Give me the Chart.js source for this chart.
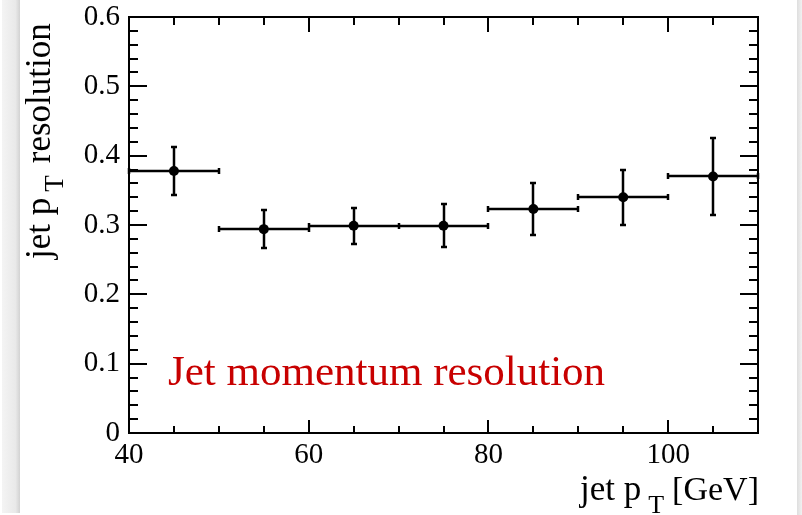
<!DOCTYPE html>
<html>
<head>
<meta charset="utf-8">
<title>Jet momentum resolution</title>
<script src="https://cdn.jsdelivr.net/npm/chart.js@4.4.1/dist/chart.umd.min.js"></script>
<style>
    html, body { margin: 0; padding: 0; background: #fff; }
    #wrap { position: relative; width: 802px; height: 515px; overflow: hidden; }
    .edge-left { position: absolute; left: 2px; top: 0; width: 18px; height: 513px;
        background: linear-gradient(to right, #f4f4f4, #e9e9e9 75%, #d2d2d2); }
    .edge-right { position: absolute; left: 797px; top: 0; width: 5px; height: 515px;
        background: linear-gradient(to right, #dedede, #f1f1f1); }
    canvas { position: absolute; left: 0; top: 0; }
</style>
</head>
<body>
<div id="wrap">
    <div class="edge-left"></div>
    <div class="edge-right"></div>
    <canvas id="resChart" width="802" height="515"></canvas>
</div>
<script>
// pT bins (GeV) and measured resolution with errors
const binCenters = [45, 55, 65, 75, 85, 95, 105];
const binHalfWidths = [5, 5, 5, 5, 5, 5, 5];
const resolution = [0.378, 0.294, 0.299, 0.299, 0.323, 0.340, 0.370];
const resolutionErr = [0.035, 0.027, 0.026, 0.031, 0.037, 0.040, 0.055];

// axis ticks
const xMajorTicks = [40, 60, 80, 100];
const xMinorTicks = [45, 50, 55, 65, 70, 75, 85, 90, 95, 105, 110];
const yMajorTicks = [0, 0.1, 0.2, 0.3, 0.4, 0.5, 0.6];
const yMinorStep = 0.02;

const SERIF = "'Liberation Serif', 'Times New Roman', serif";

function yMinorTicks() {
    const out = [];
    for (let i = 1; i < 30; i++) {
        if (i % 5 !== 0) out.push(i * yMinorStep);
    }
    return out;
}

// horizontal bin width + vertical stat error, with small end caps
const errorBars = {
    id: 'errorBars',
    beforeDatasetsDraw(chart) {
        const { ctx, scales: { x, y } } = chart;
        const px = v => Math.round(x.getPixelForValue(v));
        const py = v => Math.round(y.getPixelForValue(v));
        ctx.save();
        ctx.strokeStyle = '#000';
        ctx.lineWidth = 2.5;
        ctx.beginPath();
        binCenters.forEach((c, i) => {
            const xc = px(c);
            const xl = px(c - binHalfWidths[i]);
            const xr = px(c + binHalfWidths[i]);
            const yc = py(resolution[i]);
            const yt = py(resolution[i] + resolutionErr[i]);
            const yb = py(resolution[i] - resolutionErr[i]);
            ctx.moveTo(xl, yc); ctx.lineTo(xr, yc);
            ctx.moveTo(xl, yc - 3); ctx.lineTo(xl, yc + 3);
            ctx.moveTo(xr, yc - 3); ctx.lineTo(xr, yc + 3);
            ctx.moveTo(xc, yt); ctx.lineTo(xc, yb);
            ctx.moveTo(xc - 3, yt); ctx.lineTo(xc + 3, yt);
            ctx.moveTo(xc - 3, yb); ctx.lineTo(xc + 3, yb);
        });
        ctx.stroke();
        ctx.restore();
    }
};

// box frame with inward ticks on all four sides
const frameTicks = {
    id: 'frameTicks',
    afterDatasetsDraw(chart) {
        const { ctx, chartArea: a, scales: { x, y } } = chart;
        ctx.save();
        ctx.strokeStyle = '#000';
        ctx.lineWidth = 2;
        ctx.beginPath();
        const xTick = (v, bot, top) => {
            const px = Math.round(x.getPixelForValue(v));
            ctx.moveTo(px, a.bottom); ctx.lineTo(px, a.bottom - bot);
            ctx.moveTo(px, a.top); ctx.lineTo(px, a.top + top);
        };
        const yTick = (v, len) => {
            const py = Math.round(y.getPixelForValue(v));
            ctx.moveTo(a.left, py); ctx.lineTo(a.left + len, py);
            ctx.moveTo(a.right, py); ctx.lineTo(a.right - len, py);
        };
        xMajorTicks.forEach(v => xTick(v, 13, 15));
        xMinorTicks.forEach(v => xTick(v, 7, 8));
        yMajorTicks.forEach(v => yTick(v, 18));
        yMinorTicks().forEach(v => yTick(v, 9));
        ctx.stroke();
        ctx.strokeRect(a.left, a.top, a.right - a.left, a.bottom - a.top);
        ctx.restore();
    }
};

// axis titles with pT subscripts and the plot label
const plotText = {
    id: 'plotText',
    afterDraw(chart) {
        const ctx = chart.ctx;
        ctx.save();
        ctx.fillStyle = '#000';
        ctx.textBaseline = 'alphabetic';
        ctx.textAlign = 'left';

        // x title
        let px = 580;
        const xBase = 500;
        ctx.font = '35px ' + SERIF;
        ctx.fillText('jet p', px, xBase);
        px += ctx.measureText('jet p').width + 7;
        ctx.font = '26px ' + SERIF;
        ctx.fillText('T', px, xBase + 13);
        px += ctx.measureText('T').width + 8;
        ctx.font = '34px ' + SERIF;
        ctx.fillText('[GeV]', px, xBase);

        // y title, rotated
        ctx.save();
        ctx.translate(50, 259);
        ctx.rotate(-Math.PI / 2);
        let py = 0;
        ctx.font = '35px ' + SERIF;
        ctx.fillText('jet p', py, 0);
        py += ctx.measureText('jet p').width + 6;
        ctx.font = '27px ' + SERIF;
        ctx.fillText('T', py, 13);
        py += ctx.measureText('T').width + 12;
        ctx.font = '35px ' + SERIF;
        ctx.fillText('resolution', py, 0);
        ctx.restore();

        // label
        ctx.fillStyle = '#c80000';
        ctx.font = '43px ' + SERIF;
        ctx.fillText('Jet momentum resolution', 168, 385);
        ctx.restore();
    }
};

const points = binCenters.map((c, i) => ({ x: c, y: resolution[i] }));

// keep the plot box fixed: no extra room reserved for edge labels
function noEdgePadding(s) {
    s.paddingTop = 0;
    s.paddingBottom = 0;
    s.paddingLeft = 0;
    s.paddingRight = 0;
}

new Chart(document.getElementById('resChart'), {
    type: 'scatter',
    data: {
        datasets: [{
            data: points,
            pointRadius: 5,
            pointBackgroundColor: '#000',
            pointBorderWidth: 0
        }]
    },
    options: {
        responsive: false,
        animation: false,
        layout: { padding: { top: 17, right: 44, bottom: 0, left: 0 } },
        plugins: {
            legend: { display: false },
            tooltip: { enabled: false }
        },
        scales: {
            x: {
                type: 'linear',
                min: 40,
                max: 110,
                afterBuildTicks: s => { s.ticks = xMajorTicks.map(v => ({ value: v })); },
                afterFit: s => { s.height = 82; noEdgePadding(s); },
                grid: { display: false, drawTicks: false },
                border: { display: false },
                ticks: {
                    color: '#000',
                    font: { family: SERIF, size: 29 },
                    padding: 5,
                    maxRotation: 0,
                    autoSkip: false
                }
            },
            y: {
                type: 'linear',
                min: 0,
                max: 0.6,
                afterBuildTicks: s => { s.ticks = yMajorTicks.map(v => ({ value: v })); },
                afterFit: s => { s.width = 129; noEdgePadding(s); },
                grid: { display: false, drawTicks: false },
                border: { display: false },
                ticks: {
                    color: '#000',
                    font: { family: SERIF, size: 29 },
                    padding: 9,
                    callback: v => (v === 0 ? '0' : v.toFixed(1))
                }
            }
        }
    },
    plugins: [errorBars, frameTicks, plotText]
});
</script>
</body>
</html>
